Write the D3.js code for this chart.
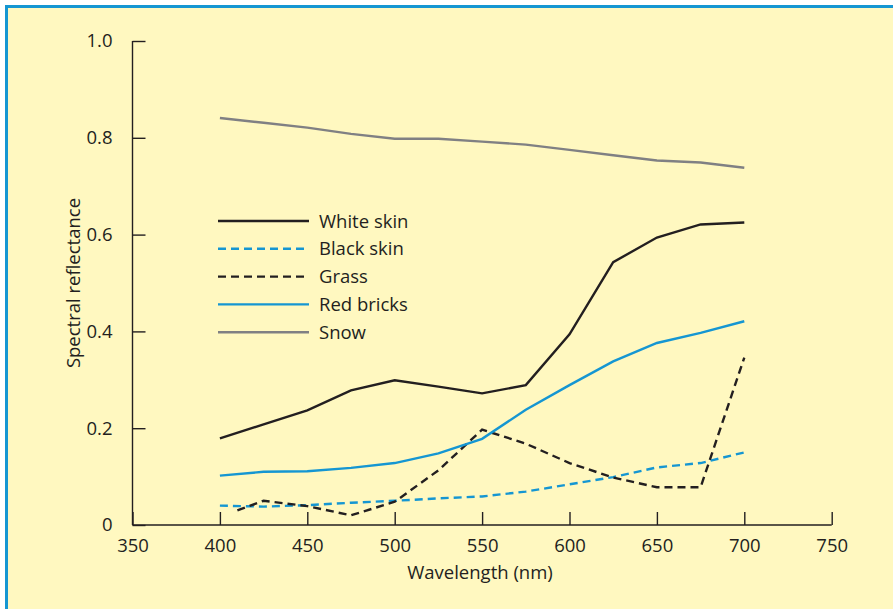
<!DOCTYPE html>
<html><head><meta charset="utf-8">
<script src="https://cdn.jsdelivr.net/npm/d3@7"></script>
<style>
html,body{margin:0;padding:0;background:#fff;}
svg{display:block;}
text{font-family:"Open Sans","Noto Sans",sans-serif;fill:#231f20;}
</style></head>
<body>
<script>
const wavelengths = [400,425,450,475,500,525,550,575,600,625,650,675,700];
const grassWavelengths = [410,425,450,475,500,525,550,575,600,625,650,675,700];
const whiteSkin = [0.179,0.208,0.237,0.278,0.299,0.286,0.272,0.289,0.394,0.543,0.594,0.621,0.625];
const blackSkin = [0.040,0.038,0.041,0.046,0.050,0.055,0.059,0.069,0.084,0.099,0.119,0.128,0.150];
const grass = [0.030,0.050,0.039,0.020,0.048,0.113,0.197,0.168,0.128,0.098,0.078,0.078,0.346];
const redBricks = [0.102,0.110,0.111,0.118,0.128,0.148,0.178,0.238,0.289,0.338,0.376,0.397,0.421];
const snow = [0.841,0.831,0.821,0.808,0.798,0.798,0.792,0.786,0.775,0.764,0.753,0.749,0.738];
const xTicks = [350,400,450,500,550,600,650,700,750];
const yTicks = [0,0.2,0.4,0.6,0.8,1.0];
const yTickLabels = ["0","0.2","0.4","0.6","0.8","1.0"];
const seriesNames = ["White skin","Black skin","Grass","Red bricks","Snow"];

const W=893,H=609, FS=18.5;
const svg=d3.select("body").append("svg").attr("width",W).attr("height",H);
svg.append("rect").attr("x",5).attr("y",5).attr("width",W-5).attr("height",H-5).attr("fill","#fff8c0");
svg.append("rect").attr("x",5).attr("y",5).attr("width",3).attr("height",H-5).attr("fill","#1596d2");
svg.append("rect").attr("x",5).attr("y",5).attr("width",W-5).attr("height",3).attr("fill","#1596d2");

const x=d3.scaleLinear().domain([350,750]).range([132.5,831.7]);
const y=d3.scaleLinear().domain([0,1]).range([525,41]);

const series=[
 {name:seriesNames[0],xs:wavelengths,v:whiteSkin,color:"#231f20",dash:null},
 {name:seriesNames[1],xs:wavelengths,v:blackSkin,color:"#1596d2",dash:"8,5"},
 {name:seriesNames[2],xs:grassWavelengths,v:grass,color:"#231f20",dash:"8,5"},
 {name:seriesNames[3],xs:wavelengths,v:redBricks,color:"#1596d2",dash:null},
 {name:seriesNames[4],xs:wavelengths,v:snow,color:"#808083",dash:null}
];

const xAxis=d3.axisBottom(x).tickValues(xTicks).tickSize(-13).tickPadding(14).tickFormat(d3.format("d"));
const gx=svg.append("g").attr("transform","translate(0,525)").call(xAxis);
const yAxis=d3.axisLeft(y).tickValues(yTicks).tickSize(-13).tickPadding(20).tickFormat((d,i)=>yTickLabels[i]);
const gy=svg.append("g").attr("transform","translate(132.5,0)").call(yAxis);
[gx,gy].forEach(g=>{
  g.select(".domain").attr("stroke","#231f20").attr("stroke-width",1.4);
  g.selectAll(".tick line").attr("stroke","#231f20").attr("stroke-width",1.4);
  g.selectAll(".tick text").attr("font-size",FS).attr("fill","#231f20").style("font-family","'Open Sans','Noto Sans',sans-serif");
});
gx.select(".domain").attr("d","M132.5,0H831.7");
gy.select(".domain").attr("d","M0,41V525");

const line=d3.line().x(d=>x(d[0])).y(d=>y(d[1]));
series.forEach(s=>{
  svg.append("path").datum(s.xs.map((w,i)=>[w,s.v[i]]))
    .attr("d",line).attr("fill","none").attr("stroke",s.color)
    .attr("stroke-width",2.4).attr("stroke-dasharray",s.dash)
    .attr("stroke-linejoin","miter");
});

const lg=svg.append("g");
series.forEach((s,i)=>{
  const ly=221+i*27.8;
  lg.append("line").attr("x1",218).attr("x2",309).attr("y1",ly).attr("y2",ly)
    .attr("stroke",s.color).attr("stroke-width",2.4).attr("stroke-dasharray",s.dash);
  lg.append("text").attr("x",319).attr("y",ly+6.5).attr("font-size",FS).text(s.name);
});

svg.append("text").attr("x",480).attr("y",579).attr("text-anchor","middle").attr("font-size",FS).text("Wavelength (nm)");
svg.append("text").attr("transform","translate(80,283) rotate(-90)").attr("text-anchor","middle").attr("font-size",FS).text("Spectral reflectance");
</script>
</body></html>
